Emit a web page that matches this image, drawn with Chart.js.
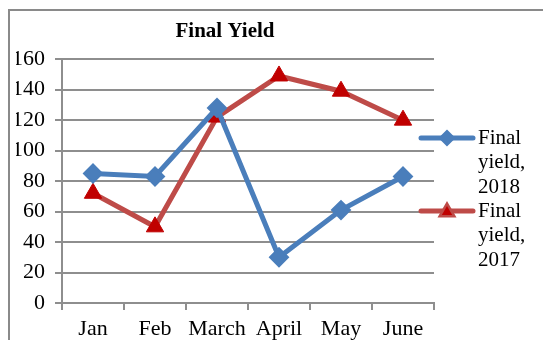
<!DOCTYPE html>
<html>
<head>
<meta charset="utf-8">
<script src="https://cdn.jsdelivr.net/npm/chart.js@4.4.1/dist/chart.umd.min.js"></script>
<style>
  body { margin: 0; background: #fff; overflow: hidden; }
  #chart { display: block; }
</style>
</head>
<body>
<canvas id="chart" width="543" height="340"></canvas>
<script>
const months = ['Jan', 'Feb', 'March', 'April', 'May', 'June'];
const yield2018 = [85, 83, 128, 30, 61, 83];
const yield2017 = [72, 50, 122, 149, 139, 120];
const yTicks = { min: 0, max: 160, step: 20 };

const FONT = "'Liberation Serif', 'Times New Roman', serif";
const GRID = '#8e8e8e';

// outer chart frame (only top and left edges are visible in the crop)
const frame = {
  id: 'frame',
  beforeDraw(chart) {
    const ctx = chart.ctx;
    ctx.save();
    ctx.strokeStyle = '#8a8a8a';
    ctx.lineWidth = 2;
    ctx.beginPath();
    ctx.moveTo(9, 340);
    ctx.lineTo(9, 10);
    ctx.lineTo(543, 10);
    ctx.stroke();
    ctx.restore();
  }
};

// Excel-style legend on the right: short line with marker, label wrapped word by word
const sideLegend = {
  id: 'sideLegend',
  afterDraw(chart) {
    const ctx = chart.ctx;
    const rows = [138, 211];
    ctx.save();
    chart.data.datasets.forEach((ds, i) => {
      const y = rows[i];
      ctx.strokeStyle = ds.borderColor;
      ctx.lineWidth = 5;
      ctx.lineCap = 'round';
      ctx.beginPath();
      ctx.moveTo(421, y);
      ctx.lineTo(473, y);
      ctx.stroke();
      Chart.helpers.drawPoint(ctx, {
        pointStyle: ds.pointStyle, radius: i === 0 ? 5 : 6, rotation: 0, borderWidth: 1
      }, 447, i === 0 ? y : y + 1);
      ctx.fillStyle = ds.pointBackgroundColor;
      ctx.fill();
      ctx.fillStyle = '#000';
      ctx.font = '21px ' + FONT;
      ctx.textBaseline = 'middle';
      ctx.textAlign = 'left';
      ds.label.split(' ').forEach((w, k) => ctx.fillText(w, 478, y + k * 24.5));
    });
    ctx.restore();
  }
};

new Chart(document.getElementById('chart'), {
  type: 'line',
  data: {
    labels: months,
    datasets: [
      {
        label: 'Final yield, 2018',
        data: yield2018,
        borderColor: '#4a7ebb',
        borderWidth: 5,
        pointStyle: 'rectRot',
        pointRadius: 9,
        pointBorderWidth: 2,
        pointBackgroundColor: '#4a7ebb',
        pointBorderColor: '#4a7ebb',
        tension: 0,
      },
      {
        label: 'Final yield, 2017',
        data: yield2017,
        borderColor: '#be4b48',
        borderWidth: 5,
        pointStyle: 'triangle',
        pointRadius: 10,
        pointBorderWidth: 1,
        pointBackgroundColor: '#c00000',
        pointBorderColor: '#c00000',
        tension: 0,
      },
    ],
  },
  options: {
    responsive: false,
    animation: false,
    layout: { padding: { left: 16, right: 109, top: 0, bottom: 0 } },
    plugins: {
      legend: { display: false },
      tooltip: { enabled: false },
      title: {
        display: true,
        text: 'Final Yield',
        color: '#000',
        font: { family: FONT, size: 21, weight: 'bold' },
        padding: { top: 19, bottom: 15 },
      },
    },
    scales: {
      x: {
        offset: true,
        afterFit(s) { s.height = 37; },
        grid: { offset: true, drawOnChartArea: false, drawTicks: true, tickLength: 7, color: GRID, lineWidth: 2 },
        border: { color: GRID, width: 2 },
        ticks: { color: '#000', font: { family: FONT, size: 22 }, padding: 6, maxRotation: 0 },
      },
      y: {
        min: yTicks.min,
        max: yTicks.max,
        afterFit(s) { s.width = 46; },
        grid: { color: GRID, lineWidth: 2, tickLength: 7 },
        border: { color: GRID, width: 2 },
        ticks: { stepSize: yTicks.step, color: '#000', font: { family: FONT, size: 22 }, padding: 10 },
      },
    },
  },
  plugins: [frame, sideLegend],
});
</script>
</body>
</html>
